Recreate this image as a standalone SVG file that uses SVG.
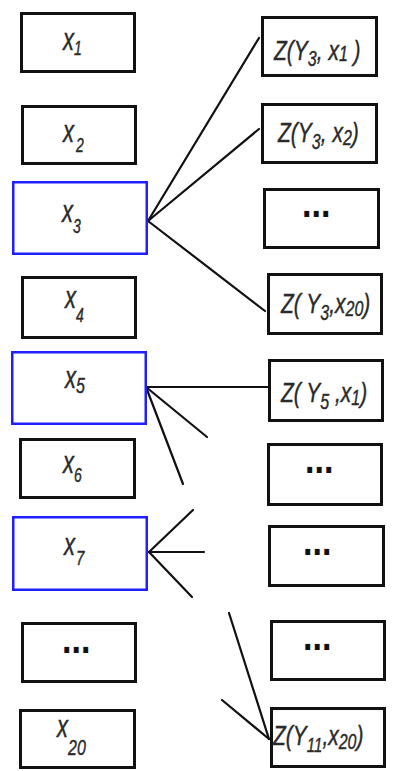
<svg xmlns="http://www.w3.org/2000/svg" width="414" height="771" viewBox="0 0 414 771">
<style>
.b{fill:#fff;stroke:#111;stroke-width:3}
.bb{fill:#fff;stroke:#1f1fff;stroke-width:2.5}
.t{font-family:"Liberation Sans",Arial,sans-serif;font-style:italic;font-size:22px;fill:#2a2a2a;stroke:#2a2a2a;stroke-width:0.3}
.z{font-family:"Liberation Sans",Arial,sans-serif;font-style:italic;font-size:21px;fill:#2a2a2a;stroke:#2a2a2a;stroke-width:0.3}
.d{font-family:"Liberation Sans",Arial,sans-serif;font-weight:bold;font-size:34px;fill:#111}
.c line{stroke:#111;stroke-width:2.2;stroke-linecap:round}
</style>
<rect width="414" height="771" fill="#fff"/>
<g class="c" id="connectors">
<line x1="148" y1="221" x2="259" y2="38"/>
<line x1="148" y1="221" x2="259" y2="129"/>
<line x1="148" y1="221" x2="265" y2="311"/>
<line x1="146" y1="387" x2="268" y2="387"/>
<line x1="146" y1="387" x2="207" y2="437"/>
<line x1="146" y1="387" x2="183" y2="484"/>
<line x1="149" y1="552" x2="193" y2="510"/>
<line x1="149" y1="552" x2="204" y2="552"/>
<line x1="149" y1="552" x2="192" y2="597"/>
<line x1="229" y1="613" x2="269" y2="739"/>
<line x1="222" y1="700" x2="269" y2="739"/>
</g>
<g id="L1"><rect class="b" x="21.5" y="13.5" width="113" height="58"/><text class="t" transform="translate(63,50) scale(1,1.4)">x<tspan font-size="14" dy="3.5">1</tspan></text></g>
<g id="L2"><rect class="b" x="22.5" y="106.5" width="113" height="57"/><text class="t" transform="translate(63,142) scale(1,1.4)">x<tspan font-size="14" dx="2" dy="7">2</tspan></text></g>
<g id="L3"><rect class="bb" x="13.25" y="182.25" width="133.5" height="71.5"/><text class="t" transform="translate(62,222) scale(1,1.4)">x<tspan font-size="14" dy="8">3</tspan></text></g>
<g id="L4"><rect class="b" x="22.5" y="277.5" width="113" height="60"/><text class="t" transform="translate(65,308) scale(1,1.4)">x<tspan font-size="14" dy="10">4</tspan></text></g>
<g id="L5"><rect class="bb" x="12.25" y="352.25" width="133.5" height="71.5"/><text class="t" transform="translate(65,388) scale(1,1.4)">x<tspan font-size="16" dy="3.5">5</tspan></text></g>
<g id="L6"><rect class="b" x="20.5" y="439.5" width="114" height="58"/><text class="t" transform="translate(63,473) scale(1,1.4)">x<tspan font-size="14" dy="6.5">6</tspan></text></g>
<g id="L7"><rect class="bb" x="13.25" y="517.25" width="133.5" height="72.5"/><text class="t" transform="translate(64,555) scale(1,1.4)">x<tspan font-size="15" dx="1" dy="7">7</tspan></text></g>
<g id="L8"><rect class="b" x="22.5" y="623.5" width="113" height="58"/><text class="d" transform="translate(62,653) scale(1,1.2)">...</text></g>
<g id="L9"><rect class="b" x="20.5" y="710.5" width="114" height="57"/><text class="t" transform="translate(57,737) scale(1,1.4)">x<tspan font-size="16" dy="12.5">20</tspan></text></g>
<g id="R1"><rect class="b" x="262.5" y="17.5" width="114" height="58"/><text class="z" transform="translate(274,60) scale(1,1.35)">Z(Y<tspan font-size="16" dy="4.5">3</tspan><tspan dy="-4.5">, x</tspan><tspan font-size="16" dy="1">1</tspan><tspan dy="-1"> )</tspan></text></g>
<g id="R2"><rect class="b" x="262.5" y="104.5" width="114" height="58"/><text class="z" transform="translate(278,142) scale(1,1.35)">Z(Y<tspan font-size="16" dy="5">3</tspan><tspan dy="-5">, x</tspan><tspan font-size="16" dy="2">2</tspan><tspan dy="-2">)</tspan></text></g>
<g id="R3"><rect class="b" x="264.5" y="189.5" width="114" height="58"/><text class="d" transform="translate(302,217) scale(1,1.2)">...</text></g>
<g id="R4"><rect class="b" x="268.5" y="274.5" width="113" height="59"/><text class="z" transform="translate(281,313) scale(1,1.35)">Z( Y<tspan font-size="16" dy="5">3</tspan><tspan dy="-5">,x</tspan><tspan font-size="16" dy="2">20</tspan><tspan dy="-2">)</tspan></text></g>
<g id="R5"><rect class="b" x="269.5" y="360.5" width="113" height="60"/><text class="z" transform="translate(281,402) scale(1,1.35)">Z( Y<tspan font-size="16" dy="5">5</tspan><tspan dy="-5"> ,x</tspan><tspan font-size="16" dy="2">1</tspan><tspan dy="-2">)</tspan></text></g>
<g id="R6"><rect class="b" x="268.5" y="444.5" width="113" height="60"/><text class="d" transform="translate(305,473) scale(1,1.2)">...</text></g>
<g id="R7"><rect class="b" x="269.5" y="526.5" width="114" height="59"/><text class="d" transform="translate(303,555) scale(1,1.2)">...</text></g>
<g id="R8"><rect class="b" x="271.5" y="621.5" width="113" height="58"/><text class="d" transform="translate(303,650) scale(1,1.2)">...</text></g>
<g id="R9"><rect class="b" x="271.5" y="708.5" width="113" height="58"/><text class="z" transform="translate(273,745) scale(1,1.35)">Z(Y<tspan font-size="15" dy="5">11</tspan><tspan dy="-5">,x</tspan><tspan font-size="16" dy="3">20</tspan><tspan dy="-3">)</tspan></text></g>
</svg>
